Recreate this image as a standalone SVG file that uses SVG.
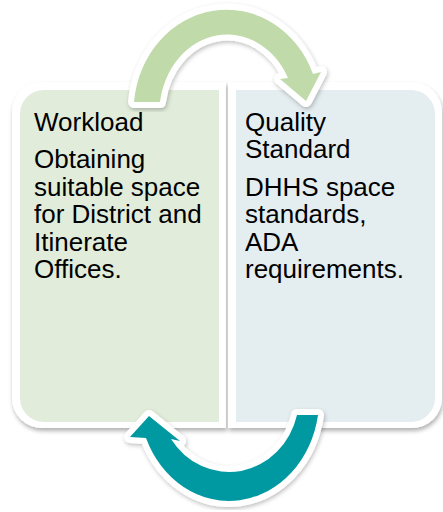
<svg xmlns="http://www.w3.org/2000/svg" width="443" height="512" viewBox="0 0 443 512">
  <defs>
    <filter id="sh" x="-10%" y="-10%" width="120%" height="120%">
      <feDropShadow dx="1" dy="3" stdDeviation="2" flood-color="#000" flood-opacity="0.3"/>
    </filter>
    <filter id="sha" x="-10%" y="-10%" width="120%" height="120%">
      <feDropShadow dx="1" dy="2" stdDeviation="2" flood-color="#000" flood-opacity="0.25"/>
    </filter>
  </defs>
  <style>
    .outer { fill: #ffffff; filter: url(#sh); }
    .txt { font-family: "Liberation Sans", Arial, sans-serif; font-size: 26px; fill: #000; }
    .arrow { stroke: #ffffff; stroke-width: 12; stroke-linejoin: round; paint-order: stroke; filter: url(#sha); }
  </style>

  <g id="node-workload">
    <path class="outer" d="M226,82 H42 A30,30 0 0 0 12,112 V398 A30,30 0 0 0 42,428 H226 Z"/>
    <path fill="#E1ECDA" d="M219,90 H44 A24,24 0 0 0 20,114 V398 A24,24 0 0 0 44,422 H219 Z"/>
    <text class="txt" x="34" y="131">Workload</text>
    <text class="txt" x="34" y="168">Obtaining</text>
    <text class="txt" x="34" y="196">suitable space</text>
    <text class="txt" x="34" y="223">for District and</text>
    <text class="txt" x="34" y="251">Itinerate</text>
    <text class="txt" x="34" y="278">Offices.</text>
  </g>

  <g id="node-quality">
    <path class="outer" d="M228,82 H412 A30,30 0 0 1 442,112 V398 A30,30 0 0 1 412,428 H228 Z"/>
    <path fill="#E4EDF0" d="M236,90 H411 A24,24 0 0 1 435,114 V398 A24,24 0 0 1 411,422 H236 Z"/>
    <text class="txt" x="245" y="131">Quality</text>
    <text class="txt" x="245" y="158">Standard</text>
    <text class="txt" x="245" y="196">DHHS space</text>
    <text class="txt" x="245" y="223">standards,</text>
    <text class="txt" x="245" y="251">ADA</text>
    <text class="txt" x="245" y="278">requirements.</text>
  </g>

  <g id="connectors">
    <path class="arrow" fill="#C0DAAA" d="M134,102 A93,102 0 0 1 313,74 L321,72 L306,101 L280,79 L288,78 A68,79 0 0 0 160,102 Z"/>
    <path class="arrow" fill="#0099A2" d="M318,415 A90,102 0 0 1 146,438 L130,437 L149,416 L180,441 L171,439 A70,75 0 0 0 297,415 Z"/>
  </g>
</svg>
